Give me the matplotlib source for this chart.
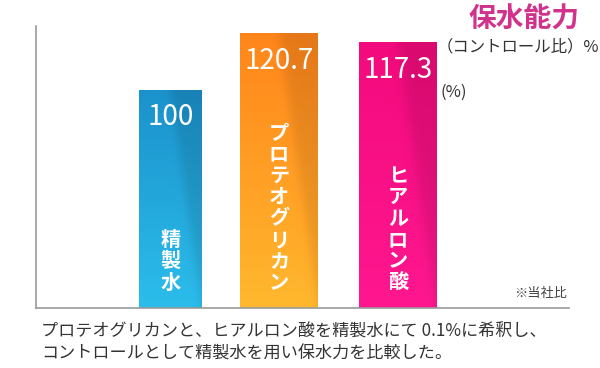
import numpy as np
import matplotlib
matplotlib.use("Agg")
import matplotlib.pyplot as plt
from matplotlib.colors import to_rgb

plt.rcParams['font.family'] = ['Noto Sans CJK JP', 'DejaVu Sans']

# data
labels = ["精製水", "プロテオグリカン", "ヒアルロン酸"]
values = [100, 120.7, 117.3]
value_text = ["100", "120.7", "117.3"]

# colours (top, bottom) per bar
top_cols = ["#1a8cc4", "#f7801a", "#ea0a78"]
bot_cols = ["#2ab6e2", "#fdb12c", "#f5168a"]

# layout (pixel-like x units)
xpos = [171, 279, 398]
widths = [63, 78, 78]
ybottom, ytop = 20.8, 123.2

fig = plt.figure(figsize=(6, 3.68), dpi=100)
ax = fig.add_axes([0.06, 0.163, 0.888, 0.766])
ax.set_xlim(36, 569)
ax.set_ylim(ybottom, ytop)

bars = ax.bar(xpos, [v - ybottom for v in values], width=widths, bottom=ybottom,
              color='none', edgecolor='none', zorder=2)

for b, tc, bc in zip(bars, top_cols, bot_cols):
    x0 = b.get_x()
    x1 = x0 + b.get_width()
    y1 = b.get_y() + b.get_height()
    n, m = 160, 80
    yf = np.linspace(0, 1, n)[:, None]
    xf = np.linspace(0, 1, m)[None, :]
    t = np.array(to_rgb(tc))
    bt = np.array(to_rgb(bc))
    img = t[None, None, :] * (1 - yf[..., None]) + bt[None, None, :] * yf[..., None]
    img = np.broadcast_to(img, (n, m, 3)).copy()
    # lighter left part, soft diagonal boundary
    d = xf - (0.5 + 0.5 * yf)
    w = 1 / (1 + np.exp(-d / 0.04))
    fac = 1.04 * (1 - w) + 0.93 * w
    img = np.clip(img * fac[..., None], 0, 1)
    im = ax.imshow(img, extent=(x0, x1, ybottom, y1), aspect='auto',
                   origin='upper', zorder=2, interpolation='bilinear')
    im.set_clip_path(b)

# value labels
for b, t in zip(bars, value_text):
    ax.annotate(t, (b.get_x() + b.get_width() / 2, b.get_y() + b.get_height()),
                xytext=(0, -9), textcoords='offset points', ha='center', va='top',
                color='white', fontsize=20, zorder=3)

# vertical category labels
for b, lab in zip(bars, labels):
    ax.annotate("\n".join(lab), (b.get_x() + b.get_width() / 2, ybottom),
                xytext=(0, 11), textcoords='offset points', ha='center', va='bottom',
                color='white', fontsize=14.5, fontweight='bold', linespacing=1.02,
                zorder=3)

ax.set_xticks([])
ax.set_yticks([])
for s in ['top', 'right']:
    ax.spines[s].set_visible(False)
for s in ['left', 'bottom']:
    ax.spines[s].set_color('#999999')
    ax.spines[s].set_linewidth(1.2)

ax.text(0.997, 0.03, "※当社比", transform=ax.transAxes, ha='right', va='bottom',
        fontsize=9.5, color='#444444')

fig.text(0.873, 0.946, "保水能力", ha='center', va='center', fontsize=20,
         fontweight='bold', color='#d1338c')
fig.text(0.999, 0.872, "（コントロール比）%", ha='right', va='center', fontsize=11.8,
         color='#333333')
fig.text(0.735, 0.75, "(%)", ha='left', va='center', fontsize=12, color='#333333')

fig.text(0.068, 0.1, "プロテオグリカンと、ヒアルロン酸を精製水にて 0.1%に希釈し、",
         ha='left', va='center', fontsize=12.3, color='#333333')
fig.text(0.068, 0.038, "コントロールとして精製水を用い保水力を比較した。",
         ha='left', va='center', fontsize=12.3, color='#333333')

fig.savefig("out.png", dpi=100)
